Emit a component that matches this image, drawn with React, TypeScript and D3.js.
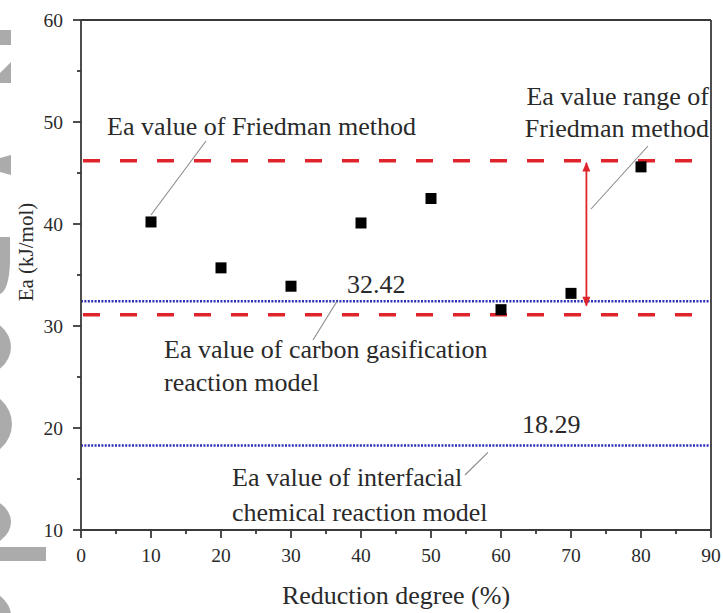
import React from "react";
import * as d3 from "d3";

// Activation energy at each reduction degree (Friedman method)
const reductionDegree = [10, 20, 30, 40, 50, 60, 70, 80];
const eaFriedman = [40.2, 35.7, 33.9, 40.1, 42.5, 31.6, 33.2, 45.6];

// Reference levels
const friedmanRange = [46.2, 31.1];
const friedmanArrow = [46.2, 32.0];
const carbonGasificationEa = 32.42;
const interfacialReactionEa = 18.29;

const xTicks = [0, 10, 20, 30, 40, 50, 60, 70, 80, 90];
const yTicks = [10, 20, 30, 40, 50, 60];

const W = 723;
const H = 613;
const FONT = "'Liberation Serif', 'Times New Roman', serif";
const AXIS = "#3a3a3a";
const TEXT = "#2a2a2a";
const RED = "#e0242c";
const BLUE = "#2e2eb8";
const MARK = "#ababab";

export default function App() {
  const x = d3.scaleLinear().domain([0, 90]).range([81, 711]);
  const y = d3.scaleLinear().domain([10, 60]).range([530, 20]);
  const minorX = d3.range(5, 90, 10);
  const minorY = d3.range(15, 60, 10);
  const x0 = x(0), x1 = x(90), y0 = y(10), y1 = y(60);
  const arrowX = x(72.2);

  return (
    <svg
      width={W}
      height={H}
      viewBox={`0 0 ${W} ${H}`}
      style={{ position: "absolute", left: 0, top: 0, background: "#fff" }}
    >
      <defs>
        <marker id="arrowHead" viewBox="0 0 12 10" refX="11" refY="5" markerWidth="12" markerHeight="8" orient="auto-start-reverse" markerUnits="userSpaceOnUse">
          <path d="M0,0 L12,5 L0,10 Z" fill={RED} />
        </marker>
      </defs>

      {/* edge of the large grey background lettering */}
      <g fill={MARK}>
        <rect x={0} y={30} width={11} height={15} />
        <path d="M0,73 L11,62 L11,83 L0,83 Z" />
        <path d="M0,158 L11,155 L11,175 L0,172 Z" />
        <path d="M0,237 L10,237 L10,262 Q9,290 0,294 Z" />
        <ellipse cx={-25} cy={347} rx={36} ry={30} />
        <ellipse cx={-25} cy={424} rx={37} ry={34} />
        <ellipse cx={-25} cy={522} rx={36} ry={26} />
        <rect x={0} y={547} width={46} height={14} />
        <ellipse cx={-25} cy={616} rx={36} ry={28} />
      </g>

      {/* reference lines */}
      {friedmanRange.map((v, i) => (
        <line key={"r" + i} x1={x0} x2={x1} y1={y(v)} y2={y(v)} stroke={RED} strokeWidth={3.5} strokeDasharray="17 20" strokeDashoffset={-2} />
      ))}
      {[carbonGasificationEa, interfacialReactionEa].map((v, i) => (
        <line key={"b" + i} x1={x0} x2={x1} y1={y(v)} y2={y(v)} stroke={BLUE} strokeWidth={2.5} strokeDasharray="2 1.4" />
      ))}

      {/* range arrow */}
      <line
        x1={arrowX} x2={arrowX}
        y1={y(friedmanArrow[0]) + 2} y2={y(friedmanArrow[1])}
        stroke={RED} strokeWidth={1.8}
        markerStart="url(#arrowHead)" markerEnd="url(#arrowHead)"
      />

      {/* data points */}
      {reductionDegree.map((d, i) => (
        <rect key={d} x={x(d) - 5.5} y={y(eaFriedman[i]) - 5.5} width={11} height={11} fill="#000" />
      ))}

      {/* leader lines */}
      <g stroke="#8a8a8a" strokeWidth={1.1}>
        <line x1={x(10)} y1={y(eaFriedman[0]) - 7} x2={206} y2={141} />
        <line x1={648} y1={146} x2={591} y2={209} />
        <line x1={337} y1={y(carbonGasificationEa)} x2={313} y2={340} />
        <line x1={488} y1={y(interfacialReactionEa) + 7} x2={465} y2={475} />
      </g>

      {/* annotations */}
      <g fontFamily={FONT} fontSize={26} fill={TEXT}>
        <text x={107} y={135}>Ea value of Friedman method</text>
        <text x={709} y={105} textAnchor="end">Ea value range of</text>
        <text x={709} y={137} textAnchor="end">Friedman method</text>
        <text x={347} y={293}>{carbonGasificationEa.toFixed(2)}</text>
        <text x={164} y={358}>Ea value of carbon gasification</text>
        <text x={164} y={391}>reaction model</text>
        <text x={522} y={433}>{interfacialReactionEa.toFixed(2)}</text>
        <text x={232} y={486}>Ea value of interfacial</text>
        <text x={232} y={521}>chemical reaction model</text>
      </g>

      {/* frame */}
      <g stroke={AXIS} strokeWidth={1.8} fill="none">
        <line x1={x0} x2={x1} y1={y0} y2={y0} />
        <line x1={x0} x2={x0} y1={y0} y2={y1} />
        <line x1={x0} x2={x1} y1={y1} y2={y1} />
        <line x1={x1} x2={x1} y1={y0} y2={y1} />
      </g>

      {/* ticks */}
      <g stroke={AXIS} strokeWidth={1.8}>
        {xTicks.map((t) => (
          <line key={"xt" + t} x1={x(t)} x2={x(t)} y1={y0} y2={y0 + 8} />
        ))}
        {minorX.map((t) => (
          <line key={"xm" + t} x1={x(t)} x2={x(t)} y1={y0} y2={y0 + 4} />
        ))}
        {yTicks.map((t) => (
          <line key={"yt" + t} x1={x0 - 8} x2={x0} y1={y(t)} y2={y(t)} />
        ))}
        {minorY.map((t) => (
          <line key={"ym" + t} x1={x0 - 4} x2={x0} y1={y(t)} y2={y(t)} />
        ))}
      </g>

      <g fontFamily={FONT} fontSize={19.5} fill={TEXT}>
        {xTicks.map((t) => (
          <text key={"xl" + t} x={x(t)} y={y0 + 32} textAnchor="middle">{t}</text>
        ))}
        {yTicks.map((t) => (
          <text key={"yl" + t} x={x0 - 18} y={y(t) + 7} textAnchor="end">{t}</text>
        ))}
      </g>

      {/* axis titles */}
      <text x={396} y={604} textAnchor="middle" fontFamily={FONT} fontSize={26} fill={TEXT}>
        Reduction degree (%)
      </text>
      <text
        transform="translate(33,252) rotate(-90)"
        textAnchor="middle"
        fontFamily={FONT}
        fontSize={21}
        fill={TEXT}
      >
        Ea (kJ/mol)
      </text>
    </svg>
  );
}
